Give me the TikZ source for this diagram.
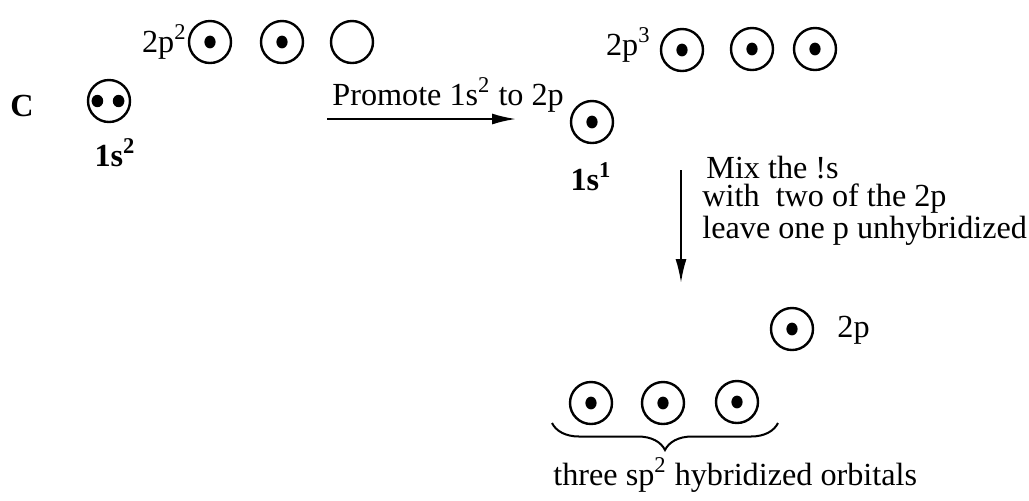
\documentclass[tikz,border=0pt]{standalone}
\usepackage{fontspec}
\setmainfont{Liberation Serif}
\usetikzlibrary{arrows.meta,decorations.pathreplacing}
\begin{document}
\begin{tikzpicture}[x=0.5pt,y=-0.5pt,
  font=\fontsize{16.1pt}{19pt}\selectfont,
  orb/.style={circle,draw,line width=1.2pt,minimum size=21pt,inner sep=0pt},
  lbl/.style={inner sep=0pt},
  blbl/.style={inner sep=0pt,font=\fontsize{16.1pt}{19pt}\selectfont\bfseries},
  arr/.style={line width=1pt,-{Latex[length=12pt,width=5.5pt]}},
  dot/.style={fill=black}]
\useasboundingbox (0,0) rectangle (1029,500);
% ground state
\node[blbl] (C) at (22,106) {C};
\node[orb] (s1) at (109,101) {};
\fill[dot] ([xshift=-5.8pt]s1.center) ellipse (2.9pt and 3.1pt);
\fill[dot] ([xshift=4.8pt]s1.center) ellipse (2.9pt and 3.1pt);
\node[blbl,anchor=base] (s1l) at (115,166) {1s\textsuperscript{2}};
\node[lbl,anchor=base east] (p2l) at (187,52) {2p\textsuperscript{2}};
\node[orb] (p2a) at (210,42) {};
\node[orb] (p2b) at (282,42) {};
\node[orb] (p2c) at (352,42) {};
\fill[dot] (p2a.center) ellipse (2.8pt and 3.2pt);
\fill[dot] (p2b.center) ellipse (2.8pt and 3.2pt);
% promotion
\node[lbl,anchor=base west] (prom) at (332,105) {Promote 1s\textsuperscript{2} to 2p};
\coordinate (a1s) at (327,119);
\coordinate (a1e) at (516,119);
\draw[arr] (a1s) -- (a1e);
% excited state
\node[lbl,anchor=base east] (p3l) at (651,55) {2p\textsuperscript{3}};
\node[orb] (p3a) at (682,50) {};
\node[orb] (p3b) at (752,49) {};
\node[orb] (p3c) at (815,49) {};
\foreach \n in {p3a,p3b,p3c} \fill[dot] (\n.center) ellipse (2.8pt and 3.2pt);
\node[orb] (s2) at (592,122) {};
\fill[dot] (s2.center) ellipse (2.8pt and 3.2pt);
\node[blbl,anchor=base] (s2l) at (591,190) {1s\textsuperscript{1}};
% hybridization
\coordinate (a2s) at (681,170);
\coordinate (a2e) at (681,283);
\draw[arr] (a2s) -- (a2e);
\node[lbl,anchor=base west,align=left,font=\fontsize{16.1pt}{14pt}\selectfont] (mix) at (702,238)
  {\hspace{2pt}Mix the !s\\with\ \ two of the 2p\\leave one p unhybridized};
% result
\node[orb] (pu) at (792,329) {};
\fill[dot] (pu.center) ellipse (2.8pt and 3.2pt);
\node[lbl,anchor=base west] (pul) at (837,337) {2p};
\node[orb] (h1) at (591,403) {};
\node[orb] (h2) at (663,403) {};
\node[orb] (h3) at (737,402) {};
\foreach \n in {h1,h2,h3} \fill[dot] (\n.center) ellipse (2.8pt and 3.2pt);
\coordinate (bl) at (552,423);
\coordinate (br) at (778,423);
\draw[line width=1pt,decorate,decoration={brace,mirror,amplitude=13.5pt,aspect=0.5}] (bl) -- (br);
\node[lbl,anchor=base west] (hl) at (553,485) {three sp\textsuperscript{2} hybridized orbitals};
\end{tikzpicture}
\end{document}
